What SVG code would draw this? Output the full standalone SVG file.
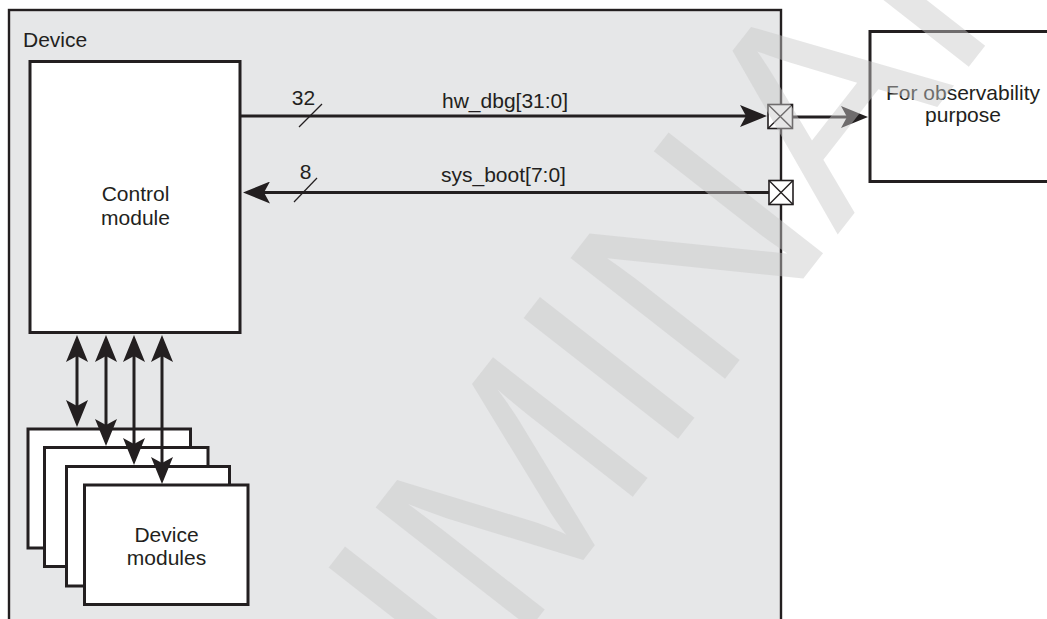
<svg xmlns="http://www.w3.org/2000/svg" width="1047" height="619" viewBox="0 0 1047 619">
<defs>
<style>
.box{fill:#ffffff;stroke:#231f20;stroke-width:3}
.lbl{font-family:"Liberation Sans",Arial,sans-serif;font-size:21px;fill:#231f20}
.mid{text-anchor:middle}
.wire{stroke:#231f20;stroke-width:3;fill:none}
.pad{fill:#ffffff;stroke:#231f20;stroke-width:1.6}
.padx{stroke:#231f20;stroke-width:1.4}
.wm{font-family:"Liberation Sans",Arial,sans-serif;font-size:285px;fill:#c8c8c8;fill-opacity:0.46;text-anchor:middle}
</style>
<marker id="ah" viewBox="0 -11 27 22" markerWidth="27" markerHeight="22" markerUnits="userSpaceOnUse" refX="17" refY="0" orient="auto-start-reverse">
<path d="M0,-11 L27,0 L0,11 L6,0 Z" fill="#231f20"/>
</marker>
</defs>
<rect width="1047" height="619" fill="#ffffff"/>
<g id="device">
<rect x="9" y="10" width="772" height="640" fill="#e6e7e8" stroke="#231f20" stroke-width="2.4"/>
<text class="lbl" x="23" y="47">Device</text>
</g>
<g id="control-module">
<rect class="box" x="30" y="61.5" width="210" height="271"/>
<text class="lbl mid" x="135.5" y="201">Control</text>
<text class="lbl mid" x="135.5" y="224.5">module</text>
</g>
<g id="device-modules">
<rect class="box" x="28" y="429" width="162.5" height="119" stroke-width="2.6"/>
<rect class="box" x="44.5" y="447.5" width="163.5" height="119" stroke-width="2.6"/>
<rect class="box" x="66.5" y="466.5" width="163" height="119.5" stroke-width="2.6"/>
<rect class="box" x="84.5" y="485" width="163.5" height="119.5" stroke-width="3.6"/>
<text class="lbl mid" x="166.5" y="541.5">Device</text>
<text class="lbl mid" x="166.5" y="565">modules</text>
</g>
<g id="observability">
<rect class="box" x="870" y="31.5" width="200" height="150" stroke-width="3.6"/>
<text class="lbl mid" x="963" y="100">For observability</text>
<text class="lbl mid" x="963" y="122">purpose</text>
</g>
<g id="pad-hw-dbg">
<rect class="pad" x="768" y="104.5" width="24.5" height="24"/>
<path class="padx" d="M768,104.5 L792.5,128.5 M792.5,104.5 L768,128.5"/>
</g>
<g id="pad-sys-boot">
<rect class="pad" x="769" y="180.5" width="24" height="24"/>
<path class="padx" d="M769,180.5 L793,204.5 M793,180.5 L769,204.5"/>
</g>
<g id="connectors">
<line class="wire" x1="240" y1="116" x2="757" y2="116" marker-end="url(#ah)"/>
<line class="wire" x1="793" y1="117" x2="858" y2="117" marker-end="url(#ah)"/>
<line class="wire" x1="769" y1="192.5" x2="253" y2="192.5" marker-end="url(#ah)"/>
<line class="wire" x1="77" y1="345" x2="77" y2="417" marker-start="url(#ah)" marker-end="url(#ah)"/>
<line class="wire" x1="106" y1="345" x2="106" y2="436" marker-start="url(#ah)" marker-end="url(#ah)"/>
<line class="wire" x1="134" y1="345" x2="134" y2="455" marker-start="url(#ah)" marker-end="url(#ah)"/>
<line class="wire" x1="162" y1="345" x2="162" y2="474" marker-start="url(#ah)" marker-end="url(#ah)"/>
<line x1="299" y1="127" x2="322" y2="104" stroke="#231f20" stroke-width="1.2"/>
<line x1="294" y1="202" x2="317" y2="178" stroke="#231f20" stroke-width="1.2"/>
<text class="lbl mid" x="303.5" y="105">32</text>
<text class="lbl mid" x="305.5" y="179">8</text>
<text class="lbl" x="442" y="108">hw_dbg[31:0]</text>
<text class="lbl" x="441" y="182">sys_boot[7:0]</text>
</g>
<text class="wm" x="601.8" y="536.4" transform="rotate(-52 601.8 536.4)">PRELIMINARY</text>
</svg>
